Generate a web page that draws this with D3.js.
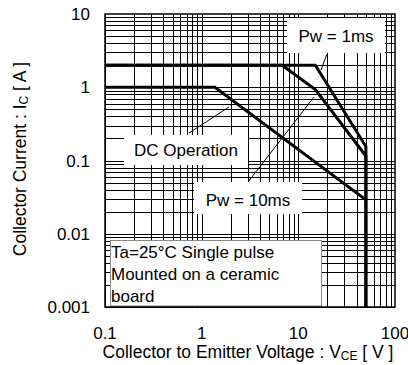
<!DOCTYPE html>
<html><head><meta charset="utf-8">
<script src="https://cdn.jsdelivr.net/npm/d3@7"></script>
<style>
html,body{margin:0;padding:0;background:#fff;}
text{font-family:"Liberation Sans",Arial,sans-serif;fill:#000;}
</style></head>
<body>
<svg id="c" width="408" height="365"></svg>
<script>
// ---- data ----
const xTicks = [0.1, 1, 10, 100];
const xTickLabels = ["0.1", "1", "10", "100"];
const yTicks = [0.001, 0.01, 0.1, 1, 10];
const yTickLabels = ["0.001", "0.01", "0.1", "1", "10"];
const pw1V = [0.1, 15, 50, 50];
const pw1I = [2, 2, 0.155, 0.001];
const pw10V = [0.1, 6.8, 15, 50, 50];
const pw10I = [2, 2, 0.93, 0.115, 0.001];
const dcV = [0.1, 1.37, 50];
const dcI = [1, 1, 0.029];
const seriesNames = ["Pw = 1ms", "Pw = 10ms", "DC Operation"];

const svg = d3.select("#c");
const x = d3.scaleLog().domain([0.1, 100]).range([105, 395]);
const y = d3.scaleLog().domain([0.001, 10]).range([307, 14]);
const FS = 17;

// grid
const gx = [], gy = [];
for (let d = 0.1; d < 100; d *= 10) for (let k = 1; k <= 9; k++) gx.push(+(d * k).toPrecision(3));
for (let d = 0.001; d < 10; d *= 10) for (let k = 1; k <= 9; k++) gy.push(+(d * k).toPrecision(3));
const grid = svg.append("g").attr("stroke", "#000").attr("stroke-width", 1).attr("shape-rendering", "crispEdges");
grid.selectAll(".gx").data(gx).join("line")
  .attr("x1", d => Math.round(x(d)) + 0.5).attr("x2", d => Math.round(x(d)) + 0.5)
  .attr("y1", y(10)).attr("y2", y(0.001));
grid.selectAll(".gy").data(gy).join("line")
  .attr("y1", d => Math.round(y(d)) + 0.5).attr("y2", d => Math.round(y(d)) + 0.5)
  .attr("x1", x(0.1)).attr("x2", x(100));

// label boxes (white, cover grid)
function box(x0, y0, x1, y1, stroke) {
  svg.append("rect").attr("x", x0).attr("y", y0).attr("width", x1 - x0).attr("height", y1 - y0)
    .attr("fill", "#fff").attr("stroke", stroke || "none").attr("stroke-width", 1);
}
box(287, 18, 385, 53);
box(124, 135, 248, 165);
box(194, 182, 302, 214);
box(110.5, 240.5, 321.5, 306, "#888");

// frame
svg.append("rect").attr("x", x(0.1)).attr("y", y(10)).attr("width", x(100) - x(0.1)).attr("height", y(0.001) - y(10))
  .attr("fill", "none").attr("stroke", "#000").attr("stroke-width", 1.5);

// curves
const line = d3.line().x(d => x(d[0])).y(d => y(d[1]));
const curves = [d3.zip(pw1V, pw1I), d3.zip(pw10V, pw10I), d3.zip(dcV, dcI)];
svg.selectAll(".curve").data(curves).join("path")
  .attr("d", line).attr("fill", "none").attr("stroke", "#000").attr("stroke-width", 3)
  .attr("stroke-linejoin", "miter");

// leader lines
const leaders = [[327, 54, 321, 70], [189, 133, 229, 107], [248, 182, 314, 97]];
svg.selectAll(".ld").data(leaders).join("line")
  .attr("x1", d => d[0]).attr("y1", d => d[1]).attr("x2", d => d[2]).attr("y2", d => d[3])
  .attr("stroke", "#000").attr("stroke-width", 1);

// series labels
const lab = [[336, 42], [248, 206], [186, 156]];
svg.selectAll(".sl").data(seriesNames).join("text")
  .attr("x", (d, i) => lab[i][0]).attr("y", (d, i) => lab[i][1])
  .attr("text-anchor", "middle").attr("font-size", FS).text(d => d);

// note
const note = ["Ta=25°C Single pulse", "Mounted on a ceramic", "board"];
svg.selectAll(".nt").data(note).join("text")
  .attr("x", 111).attr("y", (d, i) => 258 + i * 22).attr("font-size", FS).text(d => d);

// tick labels
svg.selectAll(".xt").data(xTicks).join("text")
  .attr("x", d => x(d)).attr("y", 339).attr("text-anchor", "middle").attr("font-size", FS)
  .text((d, i) => xTickLabels[i]);
svg.selectAll(".yt").data(yTicks).join("text")
  .attr("x", 90).attr("y", d => y(d) + 6).attr("text-anchor", "end").attr("font-size", FS)
  .text((d, i) => yTickLabels[i]);

// axis titles
const xt = svg.append("text").attr("x", 248).attr("y", 358).attr("text-anchor", "middle").attr("font-size", 17.5);
xt.append("tspan").text("Collector to Emitter Voltage : V");
xt.append("tspan").attr("font-size", 12).attr("dy", 2).text("CE");
xt.append("tspan").attr("dy", -2).text(" [ V ]");

const yt = svg.append("text").attr("transform", "translate(26,159) rotate(-90)").attr("text-anchor", "middle").attr("font-size", 17.5);
yt.append("tspan").text("Collector Current : I");
yt.append("tspan").attr("font-size", 12).attr("dy", 2).text("C");
yt.append("tspan").attr("dy", -2).text("  [ A ]");
</script>
</body></html>
